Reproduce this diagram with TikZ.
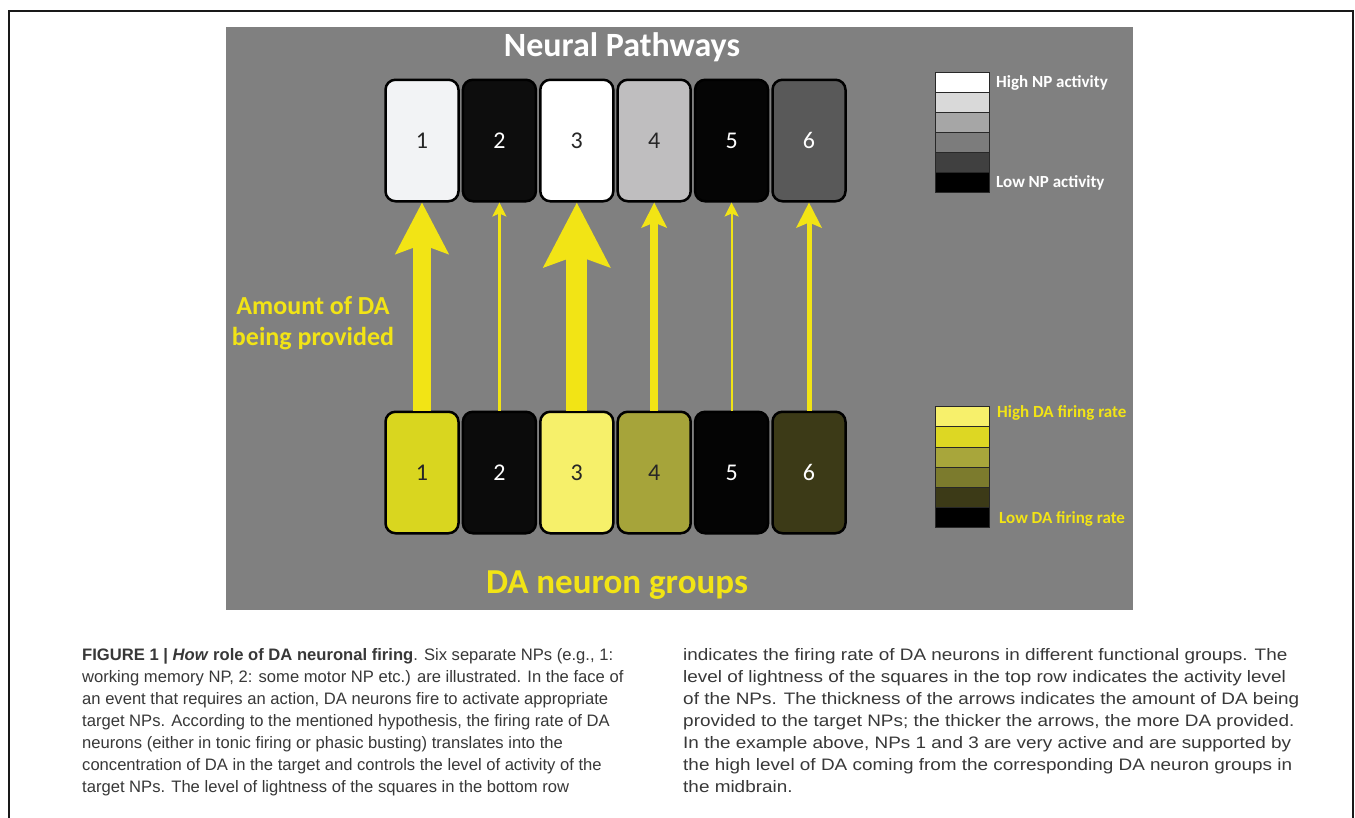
\documentclass[tikz,border=0pt]{standalone}
\usepackage{fontspec}
\setmainfont{Liberation Sans}
\newfontfamily\calfont{Carlito}
\newfontfamily\capfont{Liberation Sans}
\usetikzlibrary{arrows.meta}

\definecolor{panelgray}{HTML}{808080}
\definecolor{dayellow}{HTML}{F2E415}
\definecolor{captext}{HTML}{383838}

\begin{document}
\begin{tikzpicture}[x=1pt, y=-1pt,
        np/.style={draw=black, line width=2.5pt, rounded corners=10pt, inner sep=0pt,
            minimum width=73pt, minimum height=121.5pt, font=\calfont\fontsize{24}{28}\selectfont},
        flow/.style={draw=dayellow},
        heading/.style={font=\calfont\bfseries\fontsize{34}{40}\selectfont, inner sep=0pt},
        legtext/.style={font=\calfont\bfseries\fontsize{17}{20}\selectfont, inner sep=0pt, anchor=west},
        captxt/.style={font=\capfont\fontsize{16.6}{22}\selectfont, text=captext, align=left,
            inner sep=0pt, anchor=north west}]
        \useasboundingbox (0,0) rectangle (1355,817);
        \fill[white] (0,0) rectangle (1355,817);
        \draw[line width=2.5pt, black!90] (9,830) -- (9,11) -- (1353,11) -- (1353,830);
        \fill[panelgray] (226,27) rectangle (1133,610);

        % neural pathways
        \node[heading, text=white, anchor=base] (nptitle) at (622,56) {Neural Pathways};
        \node[np, fill={rgb,255:red,242;green,243;blue,245}, text=black!85] (t1) at (422,140.5) {1};
        \node[np, fill={rgb,255:red,13;green,13;blue,13}, text=white] (t2) at (499.4,140.5) {2};
        \node[np, fill=white, text=black!85] (t3) at (576.8,140.5) {3};
        \node[np, fill={rgb,255:red,191;green,190;blue,191}, text=black!85] (t4) at (654.2,140.5) {4};
        \node[np, fill={rgb,255:red,5;green,5;blue,5}, text=white] (t5) at (731.6,140.5) {5};
        \node[np, fill={rgb,255:red,89;green,89;blue,89}, text=white] (t6) at (809,140.5) {6};

        % DA neuron groups
        \node[np, fill={rgb,255:red,217;green,214;blue,31}, text=black!85] (b1) at (422,472.5) {1};
        \node[np, fill={rgb,255:red,11;green,11;blue,11}, text=white] (b2) at (499.4,472.5) {2};
        \node[np, fill={rgb,255:red,246;green,240;blue,106}, text=black!85] (b3) at (576.8,472.5) {3};
        \node[np, fill={rgb,255:red,166;green,164;blue,58}, text=black!85] (b4) at (654.2,472.5) {4};
        \node[np, fill={rgb,255:red,4;green,4;blue,4}, text=white] (b5) at (731.6,472.5) {5};
        \node[np, fill={rgb,255:red,60;green,58;blue,23}, text=white] (b6) at (809,472.5) {6};
        \node[heading, text=dayellow, anchor=base, font=\calfont\bfseries\fontsize{35}{40}\selectfont] (datitle) at (617,593) {DA neuron groups};

        % amount of DA
        \draw[flow, line width=18pt, -{Stealth[width=52pt, length=51pt, inset=9pt]}] (b1) -- (t1);
        \draw[flow, line width=2.2pt, -{Stealth[width=14pt, length=14pt, inset=3pt]}] (b2) -- (t2);
        \draw[flow, line width=21pt, -{Stealth[width=65pt, length=64pt, inset=11pt]}] (b3) -- (t3);
        \draw[flow, line width=7.5pt, -{Stealth[width=25pt, length=25pt, inset=5pt]}] (b4) -- (t4);
        \draw[flow, line width=2.2pt, -{Stealth[width=14pt, length=14pt, inset=3pt]}] (b5) -- (t5);
        \draw[flow, line width=5pt, -{Stealth[width=25pt, length=25pt, inset=5pt]}] (b6) -- (t6);
        \node[heading, text=dayellow, align=center, font=\calfont\bfseries\fontsize{26}{31}\selectfont] (amount) at (313,323) {Amount of DA\\being provided};

        % legends
        \begin{scope}[draw={rgb,255:red,40;green,40;blue,40}, line width=0.8pt]
            \filldraw[fill=white] (935,72) rectangle (989,92);
            \filldraw[fill={rgb,255:red,217;green,217;blue,217}] (935,92) rectangle (989,112);
            \filldraw[fill={rgb,255:red,166;green,166;blue,166}] (935,112) rectangle (989,132);
            \filldraw[fill={rgb,255:red,124;green,124;blue,124}] (935,132) rectangle (989,152);
            \filldraw[fill={rgb,255:red,64;green,64;blue,64}] (935,152) rectangle (989,172);
            \filldraw[fill=black] (935,172) rectangle (989,192);

            \filldraw[fill={rgb,255:red,247;green,240;blue,107}] (935,406) rectangle (989,426);
            \filldraw[fill={rgb,255:red,221;green,215;blue,35}] (935,426) rectangle (989,447);
            \filldraw[fill={rgb,255:red,168;green,166;blue,59}] (935,447) rectangle (989,467);
            \filldraw[fill={rgb,255:red,124;green,123;blue,45}] (935,467) rectangle (989,487);
            \filldraw[fill={rgb,255:red,60;green,58;blue,23}] (935,487) rectangle (989,507);
            \filldraw[fill=black] (935,507) rectangle (989,527);
        \end{scope}
        \node[legtext, text=white] (nphigh) at (996,83) {High NP activity};
        \node[legtext, text=white] (nplow) at (996,183) {Low NP activity};
        \node[legtext, text=dayellow] (dahigh) at (997,413) {High DA firing rate};
        \node[legtext, text=dayellow] (dalow) at (999,519) {Low DA firing rate};

        % caption
        \node[captxt] (capleft) at (82,648) {\textbf{FIGURE 1 | \textit{How} role of DA neuronal firing}. Six separate NPs (e.g., 1:\\
            working memory NP, 2: some motor NP etc.) are illustrated. In the face of\\
            an event that requires an action, DA neurons fire to activate appropriate\\
            target NPs. According to the mentioned hypothesis, the firing rate of DA\\
            neurons (either in tonic firing or phasic busting) translates into the\\
            concentration of DA in the target and controls the level of activity of the\\
            target NPs. The level of lightness of the squares in the bottom row};
        \node[captxt, xscale=1.14, transform shape] (capright) at (683,648) {indicates the firing rate of DA neurons in different functional groups. The\\
            level of lightness of the squares in the top row indicates the activity level\\
            of the NPs. The thickness of the arrows indicates the amount of DA being\\
            provided to the target NPs; the thicker the arrows, the more DA provided.\\
            In the example above, NPs 1 and 3 are very active and are supported by\\
            the high level of DA coming from the corresponding DA neuron groups in\\
            the midbrain.};
\end{tikzpicture}
\end{document}
